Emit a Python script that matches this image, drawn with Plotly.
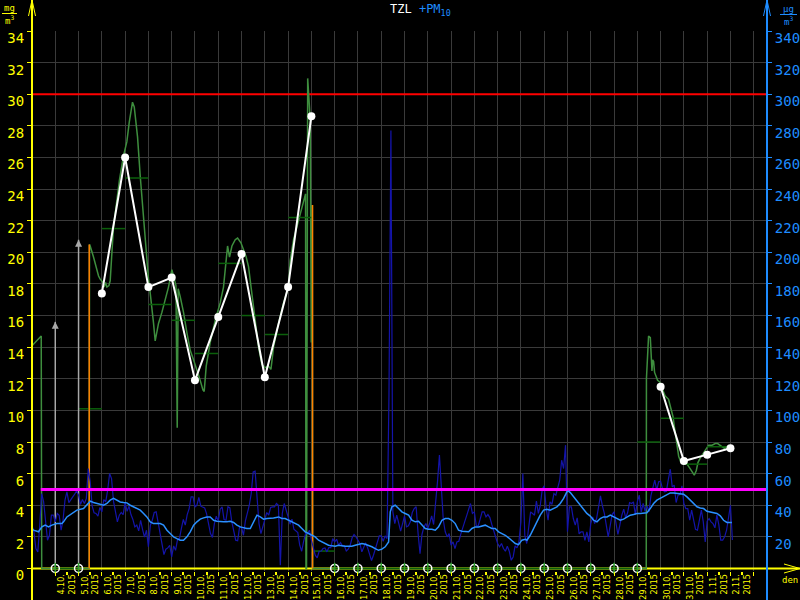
import pandas as pd
import plotly.graph_objects as go

START = pd.Timestamp("2015-10-03 00:00")
SPAN_DAYS = 31.57

# ---------------- DATA ----------------
# PM10 (µg/m3), 2-hour samples starting 3.10.2015 00:00
pm10 = [
    27.0, 23.1, 12.6, 10.5, 27.4, 47.4, 42.1, 27.4, 17.9, 21.0,
    33.7, 33.7, 29.5, 34.8, 33.7, 24.2, 30.5, 43.2, 48.5, 41.7,
    43.8, 45.3, 47.0, 49.1, 46.4, 40.5, 43.6, 41.1, 44.2, 63.2,
    54.8, 39.6, 35.2, 34.8, 33.1, 38.6, 35.8, 43.6, 42.1, 49.5,
    60.1, 56.9, 42.6, 34.8, 29.5, 33.7, 35.4, 34.1, 41.7, 36.2,
    39.4, 34.1, 31.0, 26.3, 27.4, 23.8, 30.5, 24.6, 19.8, 24.2,
    13.7, 27.4, 30.5, 35.4, 35.8, 29.1, 21.7, 16.4, 8.8, 12.2,
    13.0, 14.7, 7.3, 14.3, 11.5, 18.3, 18.9, 25.3, 31.0, 27.4,
    34.1, 37.9, 45.3, 45.3, 38.8, 40.0, 44.9, 39.4, 39.0, 38.3,
    34.5, 27.4, 22.1, 19.6, 28.4, 33.1, 30.1, 37.5, 39.0, 31.0,
    30.5, 39.0, 38.3, 29.5, 22.5, 17.9, 17.5, 26.3, 25.9, 21.0,
    30.1, 34.8, 40.0, 47.4, 61.1, 61.6, 45.3, 28.4, 22.1, 26.3,
    30.5, 35.4, 33.7, 38.6, 39.0, 39.0, 41.1, 40.0,
    2.0, 34.8, 41.1, 35.8, 32.6, 28.0, 31.2, 24.8, 24.0, 22.7,
    14.7, 10.9, 17.2, 22.1, 22.1, 24.2, 17.9, 13.0, 8.4, 6.7,
    10.9, 10.9, 12.6, 13.0, 10.5, 13.2, 13.2, 18.9, 16.8, 18.5,
    14.7, 16.4, 14.3, 14.3, 11.1, 12.2, 14.7, 19.4, 21.5, 20.0,
    18.3, 15.8, 10.5, 13.0, 16.2, 13.0, 9.2, 5.0, 8.4, 13.0,
    15.8, 20.6, 20.6, 17.2, 20.6, 18.9, 110.0, 277.0, 35.8, 28.4,
    33.7, 29.1, 23.6, 28.4, 33.3, 26.3, 27.0, 29.5, 35.4, 37.9,
    39.0, 22.1, 9.4, 21.5, 26.3, 28.4, 25.3, 28.8, 33.3, 27.8,
    40.0, 54.8, 71.7, 46.4, 30.5, 23.2, 20.0, 22.1, 14.7, 16.8,
    12.6, 16.8, 17.2, 21.7, 26.3, 29.5, 33.3, 37.9, 41.1, 34.8,
    35.8, 27.0, 27.0, 31.2, 35.8, 35.8, 32.6, 34.1, 32.2, 27.8,
    23.2, 20.0, 15.8, 13.7, 15.8, 12.6, 10.9, 14.1, 10.9, 5.2,
    7.3, 14.3, 13.0, 17.2, 29.5, 60.0, 21.0,
    15.8, 26.3, 35.8, 34.8, 33.7, 42.6, 34.8, 40.0, 50.2, 52.3,
    38.3, 30.5, 42.1, 40.5, 47.4, 46.4, 50.6, 55.9, 68.5, 63.2,
    78.0, 23.2, 39.0, 39.0, 31.6, 27.4, 32.0, 21.9, 23.2, 23.2,
    17.7, 23.2, 16.8, 28.4, 32.6, 28.4, 31.6, 40.0, 45.9, 39.6,
    34.8, 27.4, 20.0, 27.0, 34.1, 35.8, 27.4, 21.5, 27.4, 33.7,
    37.5, 32.0, 35.4, 41.7, 41.1, 42.1, 34.1, 42.1, 46.4, 35.8,
    41.1, 36.2, 39.6, 35.8, 45.9, 50.6, 55.9, 49.5, 54.8, 55.2,
    50.2, 48.5, 48.9, 56.3, 62.8, 51.6, 52.7, 41.7, 46.4, 46.8,
    52.3, 41.1, 37.9, 37.9, 30.5, 36.9, 31.6, 24.8, 24.2, 30.5,
    36.9, 29.5, 16.8, 29.9, 31.6, 29.5, 28.4, 25.7, 33.7, 27.8,
    17.9, 17.9, 20.0, 24.2, 31.2, 40.0, 18.0,
]

# PM10 running 24h mean (µg/m3): hours after 3.10. 00:00 and values
pm10_avg_hours = [
    0, 1.6, 6.7, 10.2, 13.6, 17.0, 20.5, 25.6, 30.8, 32.5, 36.0, 41.1, 46.3, 53.1, 56.6,
    60.0, 63.4, 66.9, 70.3, 73.8, 77.2, 80.6, 84.1, 87.5, 90.9, 94.4, 97.8, 101.3, 104.7, 108.1,
    111.6, 115.0, 118.4, 121.9, 125.3, 128.7, 132.2, 135.6, 139.1, 142.5, 145.9, 149.4, 152.8, 156.2, 159.7,
    163.1, 166.6, 170.0, 173.4, 176.9, 180.3, 183.7, 187.2, 190.6, 194.0, 197.5, 200.9, 204.4, 207.8, 211.2,
    214.7, 218.1, 221.5, 225.0, 228.4, 231.9, 235.3, 238.7, 242.2, 245.6, 249.0, 254.2,
    257.6, 261.0, 264.4, 267.9, 271.3, 274.8, 278.2, 281.6, 285.1, 288.5, 291.9, 295.4, 298.8, 302.3, 305.7,
    309.1, 312.6, 316.0, 319.4, 322.9, 326.3, 329.7, 333.2, 336.6, 340.1, 343.5, 346.9, 350.4, 353.8, 357.2,
    360.7, 364.1, 367.6, 369.3, 371.0, 374.4, 377.9, 381.3, 384.7, 388.2, 391.6, 395.1, 398.5, 401.9, 405.4,
    408.8, 412.2, 415.7, 419.1, 422.6, 426.0, 429.4, 432.9, 436.3, 439.7, 443.2, 446.6, 450.1, 453.5, 456.9,
    460.4, 463.8, 467.2, 470.7, 474.1, 477.5, 481.0, 484.4, 487.9, 491.3, 494.7, 498.2, 501.6, 505.0, 508.5,
    510.2, 513.6, 517.0, 520.5, 523.9, 527.4, 530.8, 534.2, 537.7, 541.1, 544.5, 548.0, 551.4, 553.1, 554.9,
    558.3, 561.7, 565.2, 568.6, 572.0, 575.5, 578.9, 582.4, 585.8, 589.2, 592.7, 596.1, 599.5, 603.0, 606.4,
    609.8, 613.3, 616.7, 620.2, 623.6, 627.0, 630.5, 633.9, 637.3, 640.8, 644.2, 647.7, 651.1, 654.5, 658.0,
    661.4, 664.8, 668.3, 671.7, 675.2, 678.6, 682.0, 685.5, 688.9, 692.3, 695.8, 699.2, 702.6, 706.1, 709.5,
    712.9, 716.4, 721.5,
]
pm10_avg = [
    25.3, 24.2, 23.2, 26.3, 27.4, 26.3, 27.4, 28.4, 28.4, 29.5, 32.6, 34.8, 36.9, 37.9, 40.0,
    42.6, 41.7, 41.1, 40.5, 40.0, 41.1, 43.2, 44.3, 43.2, 42.1, 41.7, 41.5, 40.0, 39.0, 37.9,
    36.9, 34.8, 32.6, 29.5, 28.4, 28.4, 28.4, 27.4, 24.2, 22.1, 20.0, 18.9, 17.9, 17.9, 20.0,
    23.2, 27.4, 29.5, 31.2, 32.0, 32.6, 32.6, 30.5, 29.9, 29.5, 29.5, 29.5, 29.9, 29.1, 27.4,
    26.3, 25.7, 25.3, 25.3, 29.5, 33.7, 32.6, 31.2, 31.6, 31.6, 32.0, 32.6,
    31.6, 31.6, 30.5, 29.5, 28.4, 27.4, 25.3, 23.2, 22.1, 21.0, 20.0, 17.9, 16.8, 15.8, 14.7,
    14.3, 14.1, 14.7, 14.3, 14.1, 14.1, 14.1, 14.7, 15.1, 15.8, 15.3, 14.7, 13.7, 12.6, 11.5,
    12.2, 13.7, 16.8, 35.8, 39.0, 40.0, 37.9, 35.8, 34.8, 33.7, 30.5, 29.5, 29.9, 27.4, 25.3,
    24.8, 24.8, 24.2, 26.3, 30.5, 31.6, 31.6, 30.5, 28.4, 24.2, 23.6, 23.6, 23.2, 25.3, 26.3,
    26.3, 26.7, 27.4, 26.3, 25.3, 25.3, 23.2, 22.1, 21.0, 19.4, 17.9, 15.8, 15.1, 17.9, 18.5,
    17.9, 21.0, 25.3, 29.5, 33.7, 36.9, 37.5, 36.9, 37.9, 39.0, 41.1, 44.3, 48.5, 48.9, 48.0,
    45.3, 42.6, 40.0, 36.9, 34.8, 33.1, 30.5, 29.5, 31.6, 32.6, 32.6, 33.7, 32.6, 31.6, 30.5,
    31.2, 32.6, 33.7, 34.1, 34.8, 34.8, 35.2, 35.2, 37.9, 41.1, 43.2, 44.3, 45.3, 46.8, 47.8,
    47.8, 47.4, 47.4, 47.0, 45.3, 43.2, 41.1, 39.0, 38.3, 37.9, 36.2, 35.8, 35.4, 34.8, 33.3,
    30.5, 29.1, 29.1,
]

# TZL (mg/m3): hours after 3.10. 00:00 and values (0 = no data)
tzl_hours = [
    0.2, 3.3, 6.4, 9.5, 10.0, 59.0, 59.3, 60.0, 63.4, 66.9, 68.6, 70.3, 73.1, 74.4, 75.8, 77.2,
    79.3, 80.6, 84.0, 87.5, 90.2, 94.3, 96.1, 97.8, 100.2, 102.3, 103.6, 105.4, 107.1, 108.8,
    111.6, 113.9, 115.7, 118.5, 120.1, 121.9, 123.6, 125.3, 127.0, 128.8, 130.4, 133.9, 137.3,
    140.7, 144.2, 145.9, 148.4, 149.7, 150.7, 152.8, 156.2, 159.7, 163.1, 166.5, 170.0, 173.4,
    176.2, 177.5, 179.6, 183.7, 188.9, 194.0, 197.4, 200.2, 201.6, 203.6, 206.1, 209.5, 211.9,
    215.4, 218.1, 220.8, 223.2, 225.0, 226.7, 230.1, 233.5, 237.0, 240.4, 243.8, 246.3, 249.0,
    254.1, 259.3, 264.5, 266.2, 269.6, 273.1, 276.5, 279.9, 282.0, 282.4, 283.0, 284.2, 286.8,
    287.9, 288.9, 289.3, 633.2, 633.4, 635.6, 637.4, 638.1, 639.1, 639.8, 640.8, 641.8, 643.2,
    644.9, 647.0, 649.4, 652.8, 656.2, 658.7, 660.8, 662.1, 663.5, 664.9, 666.6, 668.4, 671.7,
    675.2, 678.6, 681.4, 682.7, 684.8, 686.5, 688.9, 692.3, 695.1, 697.5, 701.0, 704.4, 706.8,
    709.6, 711.3, 713.7, 715.8, 718.1, 719.8,
]
tzl = [
    14.1, 14.3, 14.5, 14.7, 0, 0, 20.5, 20.4, 19.7, 18.9, 18.5, 18.3, 18.1, 17.8, 18.1, 17.8,
    17.9, 18.2, 21.6, 23.3, 24.6, 26.1, 26.5, 27.0, 28.2, 28.9, 29.5, 29.2, 28.2, 27.3,
    24.8, 22.9, 21.4, 19.1, 18.3, 17.4, 16.6, 15.5, 14.4, 15.1, 15.5, 16.2, 17.0,
    17.8, 18.9, 18.5, 17.9, 8.9, 17.7, 17.2, 16.2, 14.9, 13.8, 13.2, 12.6, 11.9,
    11.3, 11.2, 12.8, 14.3, 15.7, 16.8, 17.8, 19.7, 20.4, 19.7, 20.4, 20.8, 20.9,
    20.6, 20.2, 19.7, 19.1, 18.3, 17.4, 15.7, 14.0, 12.9, 12.7, 12.8, 12.6, 14.0,
    15.5, 16.8, 17.8, 19.5, 20.8, 21.6, 22.3, 23.1, 23.7, 0, 0, 31.0, 28.4,
    14.3, 23.0, 0, 0, 12.0, 14.7, 14.6, 13.6, 12.5, 13.2, 13.1, 12.4, 12.1,
    11.9, 11.8, 11.4, 10.9, 10.7, 10.1, 9.6, 9.0, 8.3, 7.7, 7.1, 6.8, 6.7,
    6.6, 6.3, 6.0, 5.9, 6.2, 6.7, 7.0, 7.3, 7.6, 7.8, 7.8, 7.9, 7.9,
    7.8, 7.7, 7.6, 7.7, 7.7, 7.7,
]

# TZL daily means (mg/m3)
tzl_days = pd.date_range("2015-10-04", "2015-11-01", freq="D")
tzl_day_mean = [0, 10.1, 21.5, 24.7, 16.7, 15.7, 13.6, 19.3, 16.0, 14.8, 22.2, 1.1,
                0, 0, 0, 0, 0, 0, 0, 0, 0, 0, 0, 0, 0,
                8.0, 9.5, 6.6, 7.7]

# Orange flagged jumps: hour, from value, to value
flag_hours = [59.0, 289.2]
flag_from = [0.0, 23.0]
flag_to = [20.5, 0.0]

# White series (mg/m3) at midnight
white_dates = ["2015-10-06", "2015-10-07", "2015-10-08", "2015-10-09", "2015-10-10",
               "2015-10-11", "2015-10-12", "2015-10-13", "2015-10-14", "2015-10-15",
               None,
               "2015-10-30", "2015-10-31", "2015-11-01", "2015-11-02"]
white_vals = [17.4, 26.0, 17.8, 18.4, 11.9, 15.9, 19.9, 12.1, 17.8, 28.6,
              None,
              11.5, 6.8, 7.2, 7.6]

# Grey arrows
arrow_dates = ["2015-10-04", "2015-10-05"]
arrow_vals = [15.6, 20.8]

# Missing-day markers on the time axis
missing_dates = ["2015-10-04", "2015-10-05"] + [f"2015-10-{d}" for d in range(16, 30)]

TZL_LIMIT = 30
PM10_LIMIT = 50
LIMIT_START = "2015-10-03 09:00"

label_days = pd.date_range("2015-10-04", "2015-11-02", freq="D")
day_bounds = pd.date_range("2015-10-04", "2015-11-03", freq="D")

# ---------------- STYLE ----------------
YEL = "#ffff00"
BLU = "#1e8cff"
FONT = "DejaVu Sans Mono"
X_END = START + pd.Timedelta(days=SPAN_DAYS)


def at_hours(hours):
    return [START + pd.Timedelta(hours=h) for h in hours]


fig = go.Figure()

# time axis line (yellow) inside the plot
fig.add_trace(go.Scatter(x=[START, X_END], y=[0, 0], mode="lines",
                         line=dict(color=YEL, width=2), hoverinfo="skip"))

# TZL limit (red)
fig.add_trace(go.Scatter(x=[START, X_END], y=[TZL_LIMIT, TZL_LIMIT], mode="lines",
                         line=dict(color="#ff0000", width=2), hoverinfo="skip"))

# PM10 hourly (dark blue)
fig.add_trace(go.Scatter(
    x=pd.date_range(START, periods=len(pm10), freq="2h"), y=pm10, yaxis="y2",
    mode="lines", line=dict(color="#1414aa", width=1.2), hoverinfo="skip"))

# PM10 limit (magenta)
fig.add_trace(go.Scatter(
    x=[pd.Timestamp(LIMIT_START), X_END], y=[PM10_LIMIT, PM10_LIMIT], yaxis="y2",
    mode="lines", line=dict(color="#ff00ff", width=3), hoverinfo="skip"))

# PM10 running mean (light blue)
fig.add_trace(go.Scatter(
    x=at_hours(pm10_avg_hours), y=pm10_avg, yaxis="y2",
    mode="lines", line=dict(color="#2a90ff", width=1.5), hoverinfo="skip"))

# TZL hourly (green)
fig.add_trace(go.Scatter(
    x=at_hours(tzl_hours), y=tzl, mode="lines",
    line=dict(color="#3e8e3e", width=1.5), hoverinfo="skip"))

# TZL daily means (dark green segments)
dx, dy = [], []
for d, v in zip(tzl_days, tzl_day_mean):
    dx += [d, d + pd.Timedelta(days=1), None]
    dy += [v, v, None]
fig.add_trace(go.Scatter(x=dx, y=dy, mode="lines",
                         line=dict(color="#0b600b", width=1.5), hoverinfo="skip"))

# orange flagged jumps
ox, oy = [], []
for h, a, b in zip(flag_hours, flag_from, flag_to):
    t = START + pd.Timedelta(hours=h)
    ox += [t, t, None]
    oy += [a, b, None]
fig.add_trace(go.Scatter(x=ox, y=oy, mode="lines",
                         line=dict(color="#ff8000", width=1.5), hoverinfo="skip"))

# grey arrows
gx, gy = [], []
for d, v in zip(arrow_dates, arrow_vals):
    gx += [d, d, None]
    gy += [0, v, None]
fig.add_trace(go.Scatter(x=gx, y=gy, mode="lines",
                         line=dict(color="#a8a8a8", width=1.5), hoverinfo="skip"))
fig.add_trace(go.Scatter(x=arrow_dates, y=arrow_vals, mode="markers",
                         marker=dict(symbol="arrow-up", size=7, color="#a8a8a8"),
                         hoverinfo="skip"))

# white series
fig.add_trace(go.Scatter(x=white_dates, y=white_vals, mode="lines+markers",
                         line=dict(color="white", width=2),
                         marker=dict(color="white", size=8), hoverinfo="skip"))

# missing-day markers
fig.add_trace(go.Scatter(x=missing_dates, y=[0] * len(missing_dates), mode="markers",
                         marker=dict(symbol="circle-open", size=8, color="white",
                                     line=dict(width=1.5, color="white")),
                         cliponaxis=False, hoverinfo="skip"))
fig.add_trace(go.Scatter(x=missing_dates, y=[0] * len(missing_dates), mode="markers",
                         marker=dict(symbol="line-ns-open", size=8,
                                     line=dict(width=1.5, color="white")),
                         cliponaxis=False, hoverinfo="skip"))

# ---------------- LAYOUT ----------------
L, R, T, B = 32, 33, 31, 29
PW, PH = 800 - L - R, 600 - T - B


def px_x(px):
    return (px - L) / PW


def px_y(py):
    return (600 - B - py) / PH


shapes = []
# x axis extension with arrow (outside plot)
ya = px_y(568.5)
shapes += [
    dict(type="line", xref="paper", yref="paper", x0=1, x1=px_x(800), y0=ya, y1=ya,
         line=dict(color=YEL, width=2)),
    dict(type="line", xref="paper", yref="paper", x0=px_x(800), x1=px_x(784), y0=ya, y1=px_y(564),
         line=dict(color=YEL, width=1)),
    dict(type="line", xref="paper", yref="paper", x0=px_x(800), x1=px_x(784), y0=ya, y1=px_y(573),
         line=dict(color=YEL, width=1)),
]
# left / right axes with arrows
for xp, col in ((32, YEL), (767, BLU)):
    shapes += [
        dict(type="line", xref="paper", yref="paper", x0=px_x(xp), x1=px_x(xp),
             y0=px_y(600), y1=px_y(0), line=dict(color=col, width=2)),
        dict(type="line", xref="paper", yref="paper", x0=px_x(xp), x1=px_x(xp - 3.5),
             y0=px_y(0), y1=px_y(16), line=dict(color=col, width=1)),
        dict(type="line", xref="paper", yref="paper", x0=px_x(xp), x1=px_x(xp + 3.5),
             y0=px_y(0), y1=px_y(16), line=dict(color=col, width=1)),
    ]
# unit fraction bars
shapes += [
    dict(type="line", xref="paper", yref="paper", x0=px_x(2), x1=px_x(17),
         y0=px_y(13.5), y1=px_y(13.5), line=dict(color=YEL, width=1)),
    dict(type="line", xref="paper", yref="paper", x0=px_x(780), x1=px_x(797),
         y0=px_y(14.5), y1=px_y(14.5), line=dict(color=BLU, width=1)),
]

annotations = [
    dict(xref="paper", yref="paper", x=px_x(388), y=px_y(10), xanchor="left", yanchor="middle",
         text="TZL <span style='color:#1e8cff'>+PM<sub>10</sub></span>",
         showarrow=False, font=dict(family=FONT, size=12, color="white")),
    dict(xref="paper", yref="paper", x=px_x(9.5), y=px_y(8), text="mg", showarrow=False,
         xanchor="center", yanchor="middle", font=dict(family=FONT, size=9, color=YEL)),
    dict(xref="paper", yref="paper", x=px_x(9.5), y=px_y(20), text="m<sup>3</sup>", showarrow=False,
         xanchor="center", yanchor="middle", font=dict(family=FONT, size=9, color=YEL)),
    dict(xref="paper", yref="paper", x=px_x(788.5), y=px_y(9), text="µg", showarrow=False,
         xanchor="center", yanchor="middle", font=dict(family=FONT, size=9, color=BLU)),
    dict(xref="paper", yref="paper", x=px_x(788.5), y=px_y(21), text="m<sup>3</sup>", showarrow=False,
         xanchor="center", yanchor="middle", font=dict(family=FONT, size=9, color=BLU)),
    dict(xref="paper", yref="paper", x=px_x(790), y=px_y(580), text="den", showarrow=False,
         xanchor="center", yanchor="middle", font=dict(family=FONT, size=9, color=YEL)),
]

fig.update_layout(
    template="none",
    width=800, height=600,
    margin=dict(l=L, r=R, t=T, b=B, autoexpand=False),
    paper_bgcolor="black", plot_bgcolor="black",
    showlegend=False,
    shapes=shapes, annotations=annotations,
    xaxis=dict(
        type="date", range=[START, X_END], automargin=False,
        tickmode="array",
        tickvals=[d + pd.Timedelta(hours=12) for d in label_days],
        ticktext=[f"{d.day}.{d.month}.<br>{d.year}" for d in label_days],
        tickangle=-90, tickfont=dict(family="DejaVu Sans", size=8, color=YEL),
        ticklabelstandoff=-4,
        ticks="outside", ticklen=3, tickwidth=2, tickcolor=YEL,
        showgrid=False, zeroline=False, showline=False,
        minor=dict(tickmode="array", tickvals=list(day_bounds), ticks="outside",
                   ticklen=4, tickwidth=1, tickcolor=YEL,
                   showgrid=True, gridcolor="#3a3a3a", gridwidth=1),
    ),
    yaxis=dict(
        range=[-0.16, 34], automargin=False, tickmode="array", tickvals=list(range(0, 35, 2)),
        ticks="outside", ticklen=4, tickcolor=YEL, tickwidth=1,
        tickfont=dict(family=FONT, size=14, color=YEL), ticklabelshift=7,
        showgrid=True, gridcolor="#3a3a3a", gridwidth=1,
        zeroline=False, showline=False,
    ),
    yaxis2=dict(
        overlaying="y", side="right", range=[-1.6, 340], automargin=False, tickmode="array",
        tickvals=list(range(20, 341, 20)),
        ticks="outside", ticklen=4, tickcolor=BLU, tickwidth=1,
        tickfont=dict(family=FONT, size=14, color=BLU), ticklabelshift=7,
        showgrid=False, zeroline=False, showline=False,
    ),
)

fig.write_html("out.html", config={"displayModeBar": False},
               post_script="document.body.style.margin='0';document.body.style.overflow='hidden';")
